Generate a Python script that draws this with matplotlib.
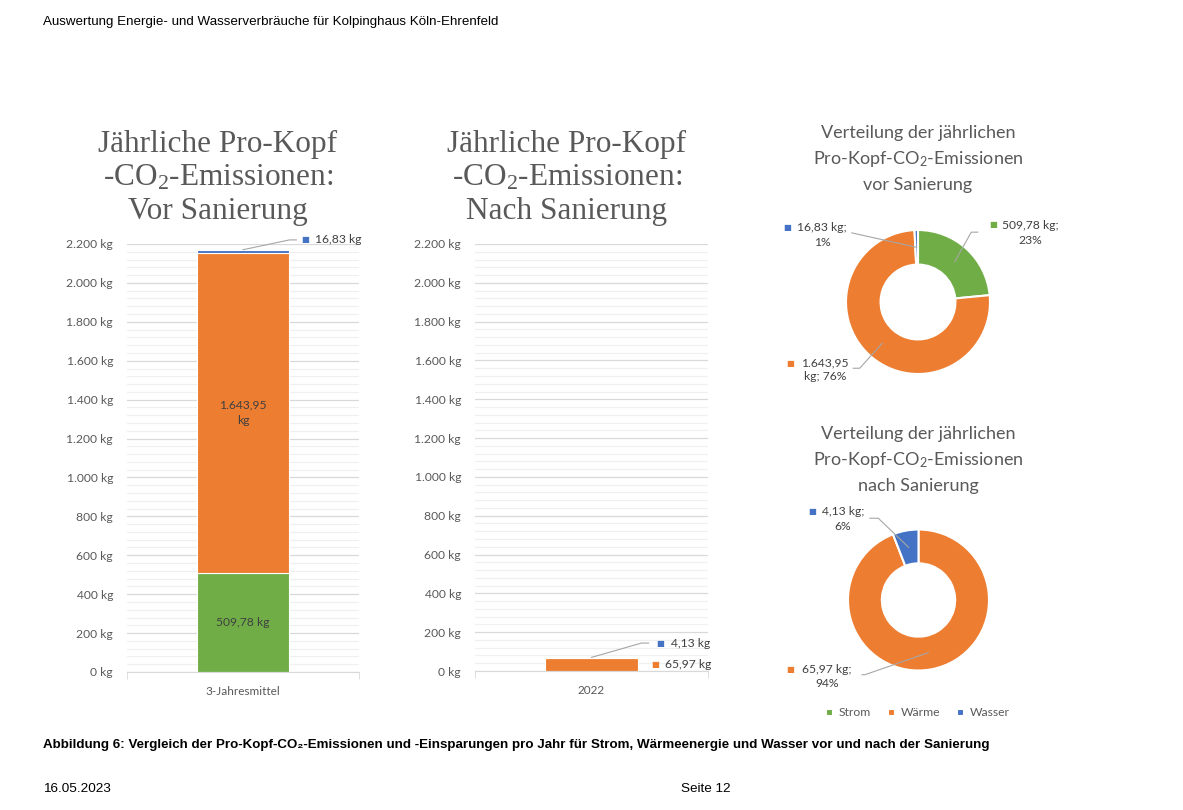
import matplotlib
matplotlib.use("Agg")
import numpy as np
import matplotlib.pyplot as plt
from matplotlib.ticker import MultipleLocator, FixedLocator, FuncFormatter

W, H = 1183, 810

# data (kg CO2 pro Kopf und Jahr)
categories = ["3-Jahresmittel", "2022"]
series = ["Strom", "Wärme", "Wasser"]
strom = [509.78, 0.0]
waerme = [1643.95, 65.97]
wasser = [16.83, 4.13]
pie_vor = [strom[0], waerme[0], wasser[0]]
pie_nach = [strom[1], waerme[1], wasser[1]]
pct_vor = ["23%", "76%", "1%"]
pct_nach = ["0%", "94%", "6%"]

colors = ["#70AD47", "#ED7D31", "#4472C4"]
GRAY = "#595959"
DARK = "#404040"

plt.rcParams["font.family"] = ["Lato", "DejaVu Sans"]


def de(v, dec=2):
    s = f"{v:,.{dec}f}"
    return s.replace(",", "X").replace(".", ",").replace("X", ".")


def px(x0, y0, x1, y1):
    return fig.add_axes([x0 / W, 1 - y1 / H, (x1 - x0) / W, (y1 - y0) / H])


def square(ax, x, y, c):
    ax.text(x, y, "■", color=c, fontsize=6, ha="center", va="center", family=["DejaVu Sans"])


fig = plt.figure(figsize=(W / 100, H / 100), dpi=100)

# page texts
fig.text(43 / W, 1 - 22 / H, "Auswertung Energie- und Wasserverbräuche für Kolpinghaus Köln-Ehrenfeld",
         family="Liberation Sans", fontsize=9.65, va="center", color="black")
fig.text(43 / W, 1 - 745 / H,
         "Abbildung 6: Vergleich der Pro-Kopf-CO₂-Emissionen und -Einsparungen pro Jahr für Strom, "
         "Wärmeenergie und Wasser vor und nach der Sanierung",
         family=["Liberation Sans", "DejaVu Sans"], fontsize=9.65, weight="bold", va="center")
fig.text(43 / W, 1 - 789 / H, "16.05.2023", family="Liberation Sans", fontsize=9.7, va="center")
fig.text(706 / W, 1 - 789 / H, "Seite 12", family="Liberation Sans", fontsize=9.7, va="center", ha="center")


def bar_chart(ax, i):
    bottoms = [0, strom[i], strom[i] + waerme[i]]
    vals = [strom[i], waerme[i], wasser[i]]
    for v, b, c in zip(vals, bottoms, colors):
        ax.bar(0, v, bottom=b, width=0.4, color=c, edgecolor="white", linewidth=0.8)
    ax.set_xlim(-0.5, 0.5)
    ax.set_ylim(0, 2200)
    ax.yaxis.set_major_locator(MultipleLocator(200))
    ax.yaxis.set_minor_locator(MultipleLocator(40))
    ax.yaxis.set_major_formatter(FuncFormatter(lambda v, p: de(v, 0) + " kg"))
    ax.grid(axis="y", which="major", color="#d9d9d9", lw=0.9)
    ax.grid(axis="y", which="minor", color="#f0f0f0", lw=0.9)
    ax.set_axisbelow(True)
    for s in ["top", "left", "right"]:
        ax.spines[s].set_visible(False)
    ax.spines["bottom"].set_color("#d9d9d9")
    ax.set_xticks([0])
    ax.set_xticklabels([categories[i]])
    ax.xaxis.set_minor_locator(FixedLocator([-0.5, 0.5]))
    ax.tick_params(axis="x", which="major", length=0, colors=GRAY, labelsize=8.5, pad=10)
    ax.tick_params(axis="x", which="minor", length=5, color="#d9d9d9")
    ax.tick_params(axis="y", which="both", length=0, colors=GRAY, labelsize=8.7, pad=10)
    return bottoms


# left bar: vor Sanierung
ax1 = px(127, 244, 359, 672)
b1 = bar_chart(ax1, 0)
ax1.text(0, strom[0] / 2, de(strom[0]) + " kg", ha="center", va="center", fontsize=8.7, color=DARK)
ax1.text(0, strom[0] + waerme[0] / 2, de(waerme[0]) + "\nkg", ha="center", va="center",
         fontsize=8.7, color=DARK, linespacing=1.5)
top1 = b1[2] + wasser[0]
ax1.plot([0.0, 0.2, 0.23], [top1, 2221, 2221], color="#a6a6a6", lw=0.8, clip_on=False)
square(ax1, 0.267, 2221, colors[2])
ax1.text(0.31, 2221, de(wasser[0]) + " kg", va="center", fontsize=8.7, color=DARK)

# middle bar: nach Sanierung
ax2 = px(475, 244, 708, 671)
b2 = bar_chart(ax2, 1)
top2 = b2[2] + wasser[1]
ax2.plot([0.0, 0.215, 0.245], [top2, 144, 144], color="#a6a6a6", lw=0.8, clip_on=False)
square(ax2, 0.294, 144, colors[2])
ax2.text(0.34, 144, de(wasser[1]) + " kg", va="center", fontsize=8.7, color=DARK)
square(ax2, 0.273, 33, colors[1])
ax2.text(0.315, 33, de(waerme[1]) + " kg", va="center", fontsize=8.7, color=DARK)

# bar titles
serif = ["Liberation Serif", "DejaVu Serif"]
for xc, last in [(218, "Vor Sanierung"), (567, "Nach Sanierung")]:
    for yb, line in [(152, "Jährliche Pro-Kopf"), (185, "-CO$\\mathregular{_2}$-Emissionen:"), (219, last)]:
        fig.text(xc / W, 1 - yb / H, line, family=serif, fontsize=22.5, color=GRAY,
                 ha="center", va="baseline")

# pie titles
for yc, last in [(133, "vor Sanierung"), (434, "nach Sanierung")]:
    for k, line in enumerate(["Verteilung der jährlichen", "Pro-Kopf-CO$\\mathregular{_2}$-Emissionen", last]):
        fig.text(918 / W, 1 - (yc + 26 * k) / H, line, fontsize=13, color=GRAY, ha="center", va="center")


def donut(ax, vals, pcts, spots):
    wedges, _ = ax.pie(vals, colors=colors, startangle=90, counterclock=False,
                       wedgeprops=dict(width=0.48, edgecolor="white", linewidth=1.5))
    ax.set_xlim(-1, 1)
    ax.set_ylim(-1, 1)
    for w, v, p, c in zip(wedges, vals, pcts, colors):
        if v <= 0:
            continue
        elbow, end, tpos, spos = spots[c]
        a = np.deg2rad((w.theta1 + w.theta2) / 2)
        x0, y0 = 0.76 * np.cos(a), 0.76 * np.sin(a)
        ax.plot([x0, elbow[0], end[0]], [y0, elbow[1], end[1]], color="#a6a6a6", lw=0.8, clip_on=False)
        if v >= 1000:
            txt = de(v) + "\nkg; " + p
        else:
            txt = de(v) + " kg;\n" + p
        ax.text(tpos[0], tpos[1], txt, ha="center", va="center", fontsize=8.7, color=DARK, linespacing=1.35)
        square(ax, spos[0], spos[1], c)
    return wedges


axp1 = px(846, 230, 990, 374)
spots1 = {
    colors[0]: ((0.74, 0.97), (0.83, 0.97), (1.556, 0.958), (1.04, 1.07)),
    colors[1]: ((-0.81, -0.92), (-0.90, -0.92), (-1.29, -0.94), (-1.78, -0.85)),
    colors[2]: ((-0.92, 0.96), (-0.92, 0.96), (-1.33, 0.93), (-1.82, 1.04)),
}
wedges1 = donut(axp1, pie_vor, pct_vor, spots1)

axp2 = px(848, 529.5, 989, 670.5)
spots2 = {
    colors[1]: ((-0.76, -1.06), (-0.80, -1.06), (-1.30, -1.09), (-1.82, -0.99)),
    colors[2]: ((-0.57, 1.16), (-0.69, 1.16), (-1.07, 1.15), (-1.51, 1.25)),
}
donut(axp2, pie_nach, pct_nach, spots2)

fig.legend(wedges1, series, loc="center", bbox_to_anchor=(918 / W, 1 - 713 / H), ncol=3,
           frameon=False, handlelength=0.55, handleheight=0.55, handletextpad=0.5,
           columnspacing=1.4, fontsize=8.7, labelcolor=GRAY)

fig.savefig("out.png", dpi=100)
